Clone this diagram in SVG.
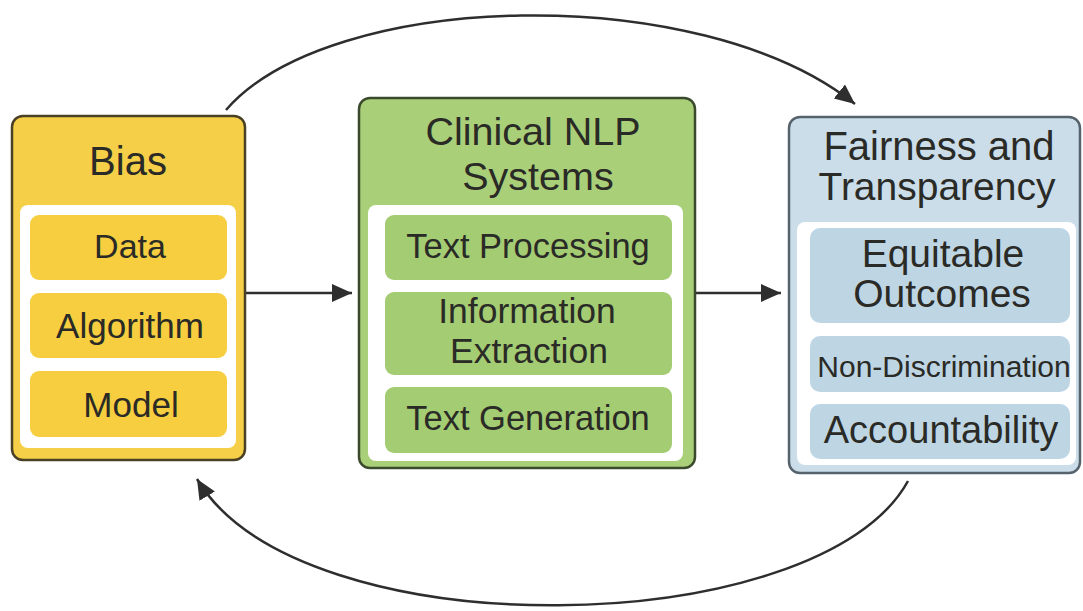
<svg xmlns="http://www.w3.org/2000/svg" width="1083" height="611" viewBox="0 0 1083 611">
  <defs>
    <marker id="arrowhead" markerUnits="userSpaceOnUse" markerWidth="22" markerHeight="20" refX="20" refY="9" orient="auto">
      <path d="M0,0 L20,9 L0,18 Z" fill="#2e2e2e"/>
    </marker>
    <style>
      text { font-family: "Liberation Sans", Arial, sans-serif; fill: #2a2a26; text-anchor: middle; }
      .frame { stroke-width: 2.5; }
      .panel { fill: #ffffff; }
      .link { fill: none; stroke: #2e2e2e; stroke-width: 2.5; }
      .bias .frame { fill: #f5cf47; stroke: #4a4024; }
      .bias .item { fill: #f6ce40; }
      .nlp .frame { fill: #a9cf79; stroke: #3b4a2d; }
      .nlp .item { fill: #a4cc73; }
      .fair .frame { fill: #cadde9; stroke: #56636d; }
      .fair .item { fill: #bed5e4; }
    </style>
  </defs>

  <rect width="1083" height="611" fill="#ffffff"/>

  <!-- connectors -->
  <g id="connectors">
    <path class="link" d="M226,110 C330,-10 700,-20 855,104" marker-end="url(#arrowhead)"/>
    <path class="link" d="M245,293 H352" marker-end="url(#arrowhead)"/>
    <path class="link" d="M695,293 H781" marker-end="url(#arrowhead)"/>
    <path class="link" d="M908,481 C820,642 300,652 197,479" marker-end="url(#arrowhead)"/>
  </g>

  <!-- Bias -->
  <g id="bias" class="bias">
    <rect class="frame" x="12" y="116" width="233" height="344" rx="11"/>
    <rect class="panel" x="20" y="205" width="216" height="243" rx="8"/>
    <text x="128" y="175" font-size="40">Bias</text>
    <rect class="item" x="30" y="215" width="197" height="65" rx="9"/>
    <text x="130" y="258" font-size="34">Data</text>
    <rect class="item" x="30" y="293" width="197" height="65" rx="9"/>
    <text x="130" y="338" font-size="35">Algorithm</text>
    <rect class="item" x="30" y="371" width="197" height="66" rx="9"/>
    <text x="131" y="417" font-size="35">Model</text>
  </g>

  <!-- Clinical NLP Systems -->
  <g id="clinical-nlp" class="nlp">
    <rect class="frame" x="359" y="98" width="336" height="370" rx="11"/>
    <rect class="panel" x="368" y="205" width="315" height="256" rx="8"/>
    <text x="533" y="145" font-size="39.5">Clinical NLP</text>
    <text x="538" y="190" font-size="39.5">Systems</text>
    <rect class="item" x="385" y="215" width="287" height="65" rx="9"/>
    <text x="528" y="258" font-size="34.5">Text Processing</text>
    <rect class="item" x="385" y="292" width="287" height="83" rx="9"/>
    <text x="527" y="323" font-size="35.5">Information</text>
    <text x="529" y="363" font-size="35.5">Extraction</text>
    <rect class="item" x="385" y="387" width="287" height="66" rx="9"/>
    <text x="528" y="430" font-size="34.5">Text Generation</text>
  </g>

  <!-- Fairness and Transparency -->
  <g id="fairness" class="fair">
    <rect class="frame" x="789" y="117" width="291" height="356" rx="11"/>
    <rect class="panel" x="797" y="222" width="279" height="243" rx="8"/>
    <text x="939" y="160" font-size="40">Fairness and</text>
    <text x="937" y="200" font-size="39">Transparency</text>
    <rect class="item" x="810" y="228" width="260" height="95" rx="10"/>
    <text x="943" y="267" font-size="39">Equitable</text>
    <text x="942" y="307" font-size="39">Outcomes</text>
    <rect class="item" x="810" y="336" width="260" height="56" rx="10"/>
    <text x="944" y="377" font-size="30">Non-Discrimination</text>
    <rect class="item" x="810" y="404" width="260" height="55" rx="10"/>
    <text x="941" y="443" font-size="38">Accountability</text>
  </g>
</svg>
